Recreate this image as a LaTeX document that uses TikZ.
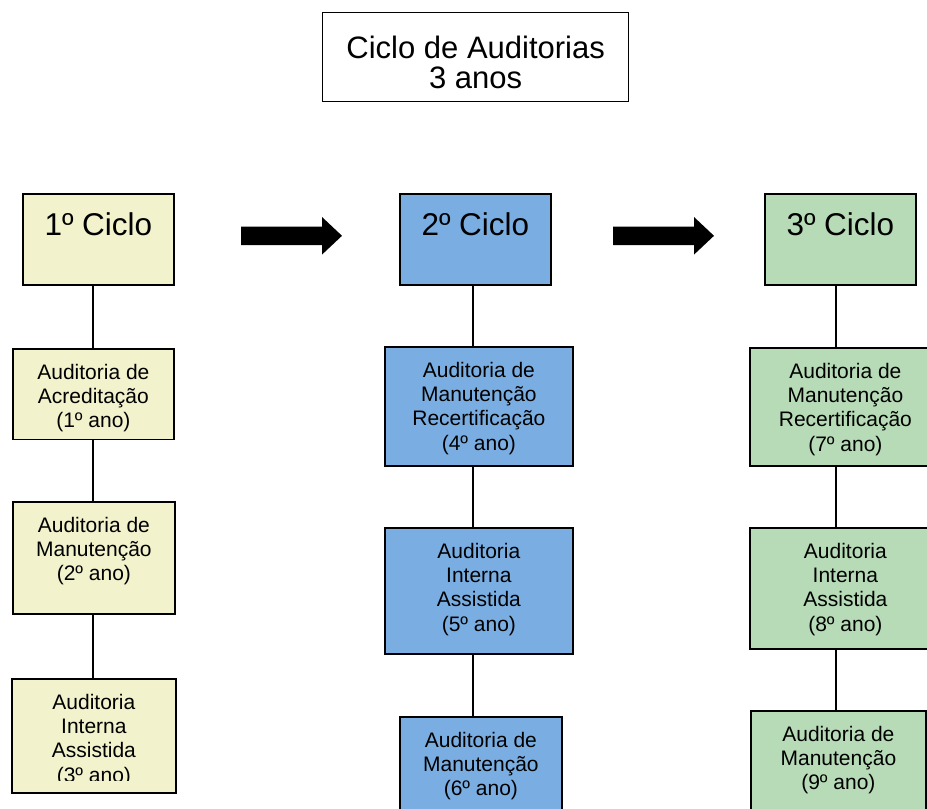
\documentclass[tikz,border=0pt]{standalone}
\usepackage{fontspec}
\setmainfont{Liberation Sans}
\usetikzlibrary{positioning}

\definecolor{amarelo}{RGB}{242,242,204}
\definecolor{azul}{RGB}{122,174,226}
\definecolor{verde}{RGB}{182,219,182}

\begin{document}
\begin{tikzpicture}[x=1pt,y=-1pt,
  caixa/.style={draw=black, line width=1.8pt, anchor=north west, inner sep=0pt},
  texto/.style={inner sep=0pt, align=center, font=\fontsize{21}{24.2}\selectfont},
  cabec/.style={inner sep=0pt, font=\fontsize{31.5}{36}\selectfont},
  liga/.style={draw=black, line width=1.8pt}]
\useasboundingbox (0,0) rectangle (927,809);
\clip (0,0) rectangle (927,809);

%Shape: Rectangle (titulo)
\node[caixa, line width=1.4pt, minimum width=306pt, minimum height=89pt] (titulo) at (322,12) {};
% Text Node
\node[texto, font=\fontsize{31}{30.3}\selectfont, below=23.4pt of titulo.north] (ttitulo) {Ciclo de Auditorias\\3 anos};

%Shapes: Rectangles (ciclos)
\foreach \n/\x/\cor in {1/22/amarelo, 2/399/azul, 3/764/verde}{
  \node[caixa, fill=\cor, minimum width=151pt, minimum height=91pt] (cic\n) at (\x,193) {};
  \node[cabec, below=42pt of cic\n.north, anchor=base] (tcic\n) {\n º Ciclo};
}

%Block arrows
\foreach \x in {241,613}
  \fill (\x,226.5) -- ++(81,0) -- ++(0,-9.5) -- ++(20,18.8) -- ++(-20,18.8) -- ++(0,-9.5) -- ++(-81,0) -- cycle;

%Shapes: Rectangles (auditorias)
\node[caixa, fill=amarelo, minimum width=161pt, minimum height=90.5pt] (aud1) at (12,348) {};
\node[caixa, fill=amarelo, minimum width=162pt, minimum height=112pt] (aud2) at (12,501) {};
\node[caixa, fill=amarelo, minimum width=164pt, minimum height=114pt] (aud3) at (11,678) {};
\node[caixa, fill=azul, minimum width=188pt, minimum height=119pt] (aud4) at (384,346) {};
\node[caixa, fill=azul, minimum width=188pt, minimum height=126pt] (aud5) at (384,527) {};
\node[caixa, fill=azul, minimum width=162pt, minimum height=130pt] (aud6) at (399,716) {};
\node[caixa, fill=verde, minimum width=191pt, minimum height=118pt] (aud7) at (749,347) {};
\node[caixa, fill=verde, minimum width=191pt, minimum height=121pt] (aud8) at (749,527) {};
\node[caixa, fill=verde, minimum width=175pt, minimum height=130pt] (aud9) at (750,710) {};

% Text Nodes
\node[texto, below=16pt of aud1.north] (txt1) {Auditoria de\\Acreditação\\(1º ano)};
\node[texto, below=16pt of aud2.north] (txt2) {Auditoria de\\Manutenção\\(2º ano)};
\begin{scope}
  \clip (aud3.north west) rectangle ([yshift=13pt]aud3.south east);
  \node[texto, below=16pt of aud3.north] (txt3) {Auditoria\\Interna\\Assistida\\(3º ano)};
\end{scope}
\node[texto, below=16pt of aud4.north] (txt4) {Auditoria de\\Manutenção\\Recertificação\\(4º ano)};
\node[texto, below=16pt of aud5.north] (txt5) {Auditoria\\Interna\\Assistida\\(5º ano)};
\node[texto, below=16pt of aud6.north] (txt6) {Auditoria de\\Manutenção\\(6º ano)};
\node[texto, below=16pt of aud7.north] (txt7) {Auditoria de\\Manutenção\\Recertificação\\(7º ano)};
\node[texto, below=16pt of aud8.north] (txt8) {Auditoria\\Interna\\Assistida\\(8º ano)};
\node[texto, below=16pt of aud9.north] (txt9) {Auditoria de\\Manutenção\\(9º ano)};

%Straight Lines
\coordinate (eixo1) at (92.7,0);
\coordinate (eixo2) at (472.7,0);
\coordinate (eixo3) at (836,0);
\foreach \a/\b/\e in {cic1/aud1/eixo1, aud1/aud2/eixo1, aud2/aud3/eixo1,
                      cic2/aud4/eixo2, aud4/aud5/eixo2, aud5/aud6/eixo2,
                      cic3/aud7/eixo3, aud7/aud8/eixo3, aud8/aud9/eixo3}
  \draw[liga] (\a.south -| \e) -- (\b.north -| \e);
\end{tikzpicture}
\end{document}
